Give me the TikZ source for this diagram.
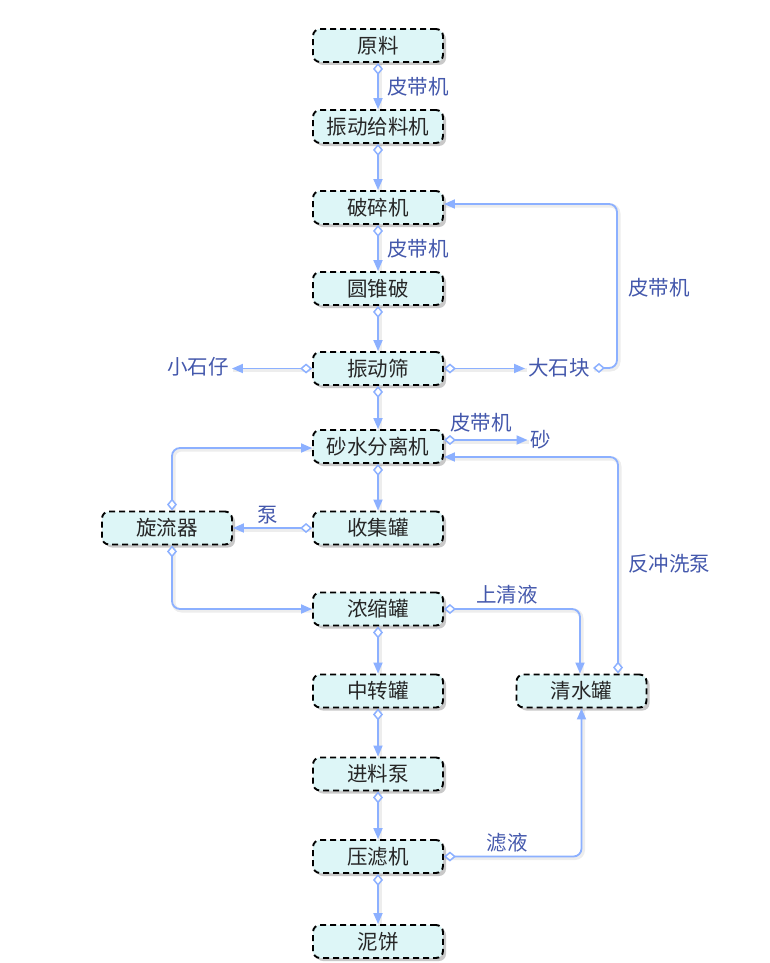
\documentclass[tikz,border=0pt]{standalone}
\usepackage{fontspec}
\newfontfamily\cjk{Noto Sans CJK SC}
\usetikzlibrary{arrows.meta,shadows,calc}
\definecolor{boxfill}{HTML}{DDF6F7}
\definecolor{edgec}{HTML}{8CB0FF}
\definecolor{lblc}{HTML}{4458AC}
\begin{document}
\begin{tikzpicture}[x=1pt,y=-1pt,
  box/.style={draw=black, line width=1.9pt, dash pattern=on 6pt off 4pt, rounded corners=7pt,
    fill=boxfill, minimum width=130pt, minimum height=33pt, inner sep=0pt,
    text=black!85, font=\cjk\fontsize{20.5}{22}\selectfont,
    drop shadow={shadow xshift=3pt, shadow yshift=-3pt, opacity=0.3, fill=black!70}},
  lab/.style={text=lblc, font=\cjk\fontsize{20.5}{22}\selectfont, inner sep=3pt},
  flow/.style={draw=edgec, line width=1.8pt, rounded corners=8pt,
    preaction={draw=black, opacity=0.07, line width=4pt, transform canvas={xshift=1.5pt,yshift=-1.5pt}, arrows=-},
    {Diamond[fill=white, length=12pt, width=10pt, line width=1.5pt]}-{Triangle[length=11pt, width=9pt]}}]
\useasboundingbox (0,0) rectangle (769,963);

% nodes
\node[box] (yl)  at (378,45.5)  {原料};
\node[box] (zdg) at (378,126.5) {振动给料机};
\node[box] (psj) at (378,207.5) {破碎机};
\node[box] (yzp) at (378,288.5) {圆锥破};
\node[box] (zds) at (378,368.5) {振动筛};
\node[box] (fl)  at (378,446.5) {砂水分离机};
\node[box] (sjg) at (378,528)   {收集罐};
\node[box] (xl)  at (167,528)   {旋流器};
\node[box] (ns)  at (378,609)   {浓缩罐};
\node[box] (zz)  at (378,691)   {中转罐};
\node[box] (qs)  at (581.5,691) {清水罐};
\node[box] (jl)  at (378,774)   {进料泵};
\node[box] (ylj) at (378,856.5) {压滤机};
\node[box] (nb)  at (378,941.5) {泥饼};

% end labels
\node[lab] (xsz) at (198,367) {小石仔};
\node[lab] (dsk) at (559,368) {大石块};
\node[lab] (sha) at (541,440) {砂};

% main chain
\draw[flow] (yl) -- (zdg);
\node[lab] at (418,87) {皮带机};
\draw[flow] (zdg) -- (psj);
\draw[flow] (psj) -- (yzp);
\node[lab] at (418,249) {皮带机};
\draw[flow] (yzp) -- (zds);
\draw[flow] (zds) -- (fl);
\draw[flow] (fl) -- (sjg);
\draw[flow] (ns) -- (zz);
\draw[flow] (zz) -- (jl);
\draw[flow] (jl) -- (ylj);
\draw[flow] (ylj) -- (nb);

% vibrating screen
\draw[flow] (zds.west) -- (xsz.east |- zds.west);
\draw[flow] (zds.east) -- (dsk.west |- zds.east);
\coordinate (c1) at (617,204);
\draw[flow] (dsk.east) -| (c1) -- (psj.east |- c1);
\node[lab] at (659,288) {皮带机};

% sand separator
\draw[flow] (fl.east |- sha) -- (sha.west);
\node[lab] at (481,423) {皮带机};
\draw[flow] ($(qs.north)+(36.5,0)$) |- ($(fl.east)+(0,10.5)$);
\node[lab] at (669,564) {反冲洗泵};

% cyclone
\draw[flow] ($(xl.north)+(5,0)$) |- ($(fl.west)+(0,1.5)$);
\draw[flow] (sjg.west) -- (xl.east);
\node[lab] at (268,515) {泵};
\draw[flow] ($(xl.south)+(5,0)$) |- (ns.west);

% clear water
\draw[flow] (ns.east) -| ($(qs.north)+(-1.5,0)$);
\node[lab] at (507,595) {上清液};
\draw[flow] (ylj.east) -| (qs.south);
\node[lab] at (507,843) {滤液};
\end{tikzpicture}
\end{document}
